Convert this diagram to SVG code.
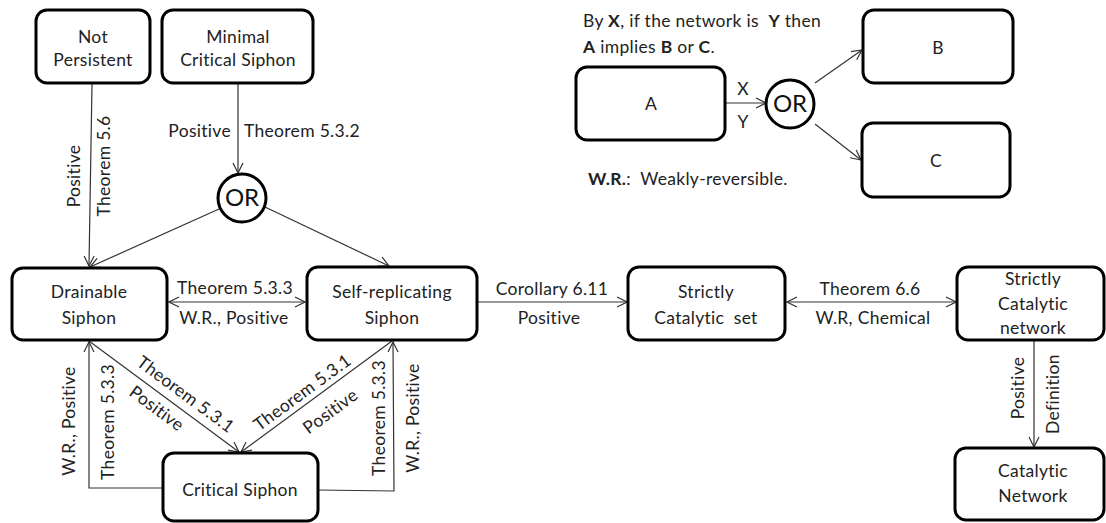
<svg xmlns="http://www.w3.org/2000/svg" width="1106" height="523" viewBox="0 0 1106 523">
<style>
.box{fill:#fff;stroke:#000;stroke-width:3}
.circ{fill:#fff;stroke:#000;stroke-width:3}
.t{font-family:Lato,"Open Sans",sans-serif;font-size:17.5px;letter-spacing:0.3px;fill:#222;text-anchor:middle}
.l{font-family:Lato,"Open Sans",sans-serif;font-size:17.5px;letter-spacing:0.3px;fill:#222}
.or{font-family:Lato,"Open Sans",sans-serif;font-size:24px;fill:#111;text-anchor:middle}
.c{fill:none;stroke:#333;stroke-width:1.2}
.v{dominant-baseline:central}
</style>
<defs>
<marker id="ah" viewBox="0 0 12 12" refX="11" refY="6" markerWidth="12" markerHeight="12" markerUnits="userSpaceOnUse" orient="auto-start-reverse">
<path d="M1,1 L11,6 L1,11" fill="none" stroke="#333" stroke-width="1.2"/>
</marker>
</defs>
<rect width="1106" height="523" fill="#fff"/>

<g id="connectors">
<line class="c" x1="92" y1="84" x2="89" y2="266" marker-end="url(#ah)"/>
<line class="c" x1="238" y1="84" x2="238" y2="173" marker-end="url(#ah)"/>
<line class="c" x1="219" y1="209" x2="90" y2="267" marker-end="url(#ah)"/>
<line class="c" x1="265" y1="207" x2="389" y2="266" marker-end="url(#ah)"/>
<line class="c" x1="169" y1="302" x2="305" y2="302" marker-start="url(#ah)" marker-end="url(#ah)"/>
<line class="c" x1="478" y1="302" x2="627" y2="302" marker-end="url(#ah)"/>
<line class="c" x1="787" y1="302" x2="956" y2="302" marker-start="url(#ah)" marker-end="url(#ah)"/>
<line class="c" x1="1034" y1="341" x2="1034" y2="447" marker-end="url(#ah)"/>
<polyline class="c" points="163,488 89,488 89,342" marker-end="url(#ah)"/>
<polyline class="c" points="318,490 394,491 393,342" marker-end="url(#ah)"/>
<line class="c" x1="89" y1="341" x2="239" y2="452" marker-end="url(#ah)"/>
<line class="c" x1="392" y1="341" x2="241" y2="452" marker-end="url(#ah)"/>
<line class="c" x1="726" y1="103" x2="766" y2="103" marker-end="url(#ah)"/>
<line class="c" x1="815" y1="83" x2="862" y2="50" marker-end="url(#ah)"/>
<line class="c" x1="815" y1="124" x2="861" y2="160" marker-end="url(#ah)"/>

<text class="t v" transform="translate(73,176) rotate(-90)">Positive</text>
<text class="t v" transform="translate(103,166) rotate(-90)">Theorem 5.6</text>
<text class="t" x="231" y="137" style="text-anchor:end">Positive</text>
<text class="t" x="244" y="137" style="text-anchor:start">Theorem 5.3.2</text>
<text class="t" x="235" y="294">Theorem 5.3.3</text>
<text class="t" x="234" y="324">W.R., Positive</text>
<text class="t" x="552" y="295">Corollary 6.11</text>
<text class="t" x="549" y="324">Positive</text>
<text class="t" x="870" y="295">Theorem 6.6</text>
<text class="t" x="873" y="324">W.R, Chemical</text>
<text class="t v" transform="translate(1017,388) rotate(-90)">Positive</text>
<text class="t v" transform="translate(1052,394) rotate(-90)">Definition</text>
<text class="t v" transform="translate(68,421) rotate(-90)">W.R., Positive</text>
<text class="t v" transform="translate(107,422) rotate(-90)">Theorem 5.3.3</text>
<text class="t v" transform="translate(378,418) rotate(-90)">Theorem 5.3.3</text>
<text class="t v" transform="translate(412,418) rotate(-90)">W.R., Positive</text>
<text class="t v" transform="translate(186,394) rotate(36.5)">Theorem 5.3.1</text>
<text class="t v" transform="translate(157,408) rotate(36.5)">Positive</text>
<text class="t v" transform="translate(302,392) rotate(-36.3)">Theorem 5.3.1</text>
<text class="t v" transform="translate(330,411) rotate(-36.3)">Positive</text>
<text class="t" x="743" y="95">X</text>
<text class="t" x="743" y="128">Y</text>
</g>

<g id="not-persistent">
<rect class="box" x="36" y="10" width="114" height="73" rx="11"/>
<text class="t" x="93" y="43">Not</text>
<text class="t" x="93" y="66">Persistent</text>
</g>
<g id="minimal-critical-siphon">
<rect class="box" x="162" y="10" width="151" height="73" rx="11"/>
<text class="t" x="238" y="43">Minimal</text>
<text class="t" x="238" y="66">Critical Siphon</text>
</g>
<g id="or-main">
<circle class="circ" cx="242" cy="198" r="24"/>
<text class="or" x="242" y="206">OR</text>
</g>
<g id="drainable-siphon">
<rect class="box" x="12" y="268" width="155" height="72" rx="11"/>
<text class="t" x="89" y="298">Drainable</text>
<text class="t" x="89" y="324">Siphon</text>
</g>
<g id="self-replicating-siphon">
<rect class="box" x="307" y="267" width="170" height="73" rx="11"/>
<text class="t" x="392" y="298">Self-replicating</text>
<text class="t" x="392" y="324">Siphon</text>
</g>
<g id="strictly-catalytic-set">
<rect class="box" x="628" y="267" width="157" height="73" rx="11"/>
<text class="t" x="706" y="298">Strictly</text>
<text class="t" x="706" y="324" xml:space="preserve">Catalytic  set</text>
</g>
<g id="strictly-catalytic-network">
<rect class="box" x="957" y="267" width="147" height="73" rx="11"/>
<text class="t" x="1033" y="285">Strictly</text>
<text class="t" x="1033" y="310">Catalytic</text>
<text class="t" x="1033" y="334">network</text>
</g>
<g id="critical-siphon">
<rect class="box" x="163" y="453" width="155" height="68" rx="11"/>
<text class="t" x="240" y="496">Critical Siphon</text>
</g>
<g id="catalytic-network">
<rect class="box" x="955" y="448" width="149" height="72" rx="11"/>
<text class="t" x="1033" y="477">Catalytic</text>
<text class="t" x="1033" y="502">Network</text>
</g>

<g id="legend">
<text class="l" x="583" y="27" xml:space="preserve">By <tspan font-weight="bold">X</tspan>, if the network is  <tspan font-weight="bold">Y</tspan> then</text>
<text class="l" x="583" y="53"><tspan font-weight="bold">A</tspan> implies <tspan font-weight="bold">B</tspan> or <tspan font-weight="bold">C</tspan>.</text>
<text class="l" x="588" y="185" xml:space="preserve"><tspan font-weight="bold">W.R.</tspan>:  Weakly-reversible.</text>
</g>
<g id="legend-a">
<rect class="box" x="576" y="67" width="149" height="73" rx="11"/>
<text class="t" x="651" y="110">A</text>
</g>
<g id="legend-or">
<circle class="circ" cx="790" cy="104" r="24"/>
<text class="or" x="790" y="112">OR</text>
</g>
<g id="legend-b">
<rect class="box" x="863" y="10" width="150" height="73" rx="11"/>
<text class="t" x="938" y="54">B</text>
</g>
<g id="legend-c">
<rect class="box" x="862" y="123" width="148" height="74" rx="11"/>
<text class="t" x="936" y="167">C</text>
</g>
</svg>
